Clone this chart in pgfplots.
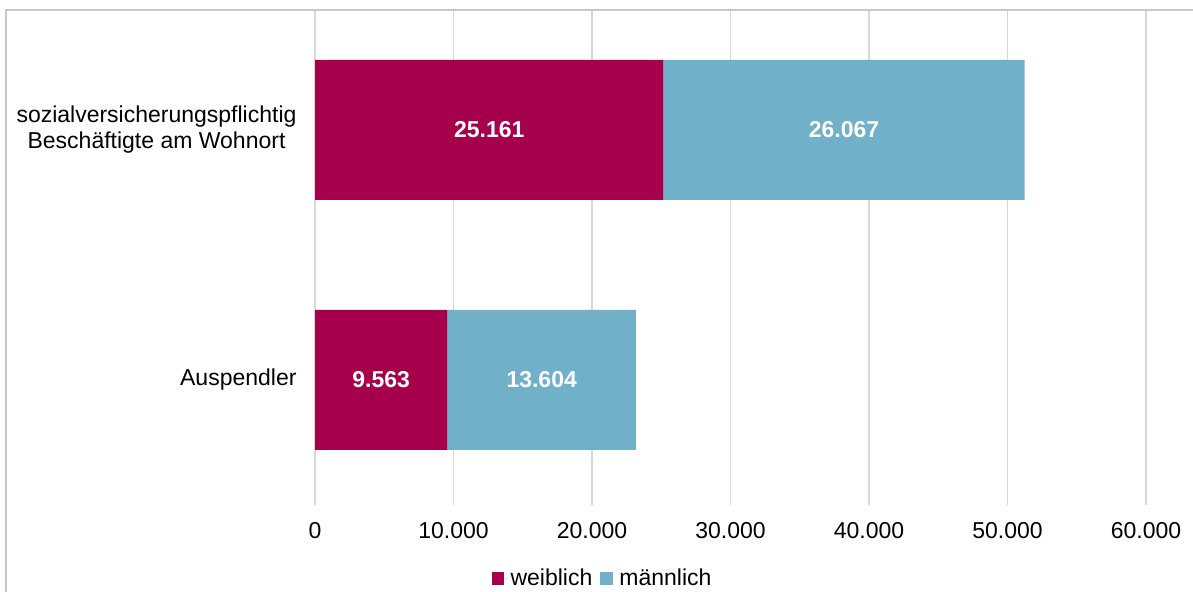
\documentclass[border=0pt]{standalone}
\usepackage{pgfplots}
\pgfplotsset{compat=1.18}
\usepackage{fontspec}
\setmainfont{Liberation Sans}
\definecolor{weib}{RGB}{166,0,77}
\definecolor{maen}{RGB}{112,176,200}
\definecolor{gridc}{RGB}{217,217,217}
\definecolor{framec}{RGB}{200,200,200}
\begin{document}
\begin{tikzpicture}[x=1bp,y=1bp]
\path[use as bounding box] (0,0) rectangle (1193,592);
\begin{axis}[
  at={(315bp,87bp)}, anchor=south west,
  scale only axis, width=831bp, height=494bp,
  xbar stacked, bar width=140bp,
  xmin=0, xmax=60000, ymin=-0.5, ymax=1.476,
  xtick={0,10000,20000,30000,40000,50000,60000},
  ytick={0,1},
  yticklabels={Auspendler,{sozialversicherungspflichtig\\Beschäftigte am Wohnort}},
  scaled x ticks=false,
  /pgf/number format/.cd, 1000 sep={.}, assume math mode=true, /pgfplots/.cd,
  xmajorgrids, major grid style={gridc, line width=1.5bp},
  axis line style={draw=none}, tick style={draw=none},
  tick label style={font=\fontsize{23bp}{26bp}\selectfont},
  yticklabel style={align=center, xshift=-15bp},
  xticklabel style={yshift=-14bp},
  legend style={draw=none, at={(0.346,-0.148)}, anchor=center, legend columns=2,
    font=\fontsize{23bp}{26bp}\selectfont,
    /tikz/every even column/.append style={column sep=6bp}},
  legend image code/.code={\path (0bp,0bp) -- (17bp,0bp);\fill[#1] (0bp,-6.5bp) rectangle (12.5bp,6.5bp);},
]
\addplot[fill=weib, draw=none] coordinates {(9563,0) (25161,1)};
\addlegendentry{weiblich}
\addplot[fill=maen, draw=none] coordinates {(13604,0) (26067,1)};
\addlegendentry{männlich}
\end{axis}
\begin{axis}[
  at={(315bp,87bp)}, anchor=south west,
  scale only axis, width=831bp, height=494bp,
  xmin=0, xmax=60000, ymin=-0.5, ymax=1.476,
  hide axis,
  nodes near coords, point meta=explicit symbolic,
  every node near coord/.append style={anchor=center, text=white,
    font=\bfseries\fontsize{23bp}{26bp}\selectfont},
]
\addplot[draw=none, mark=none] coordinates {
  (4781.5,0) [9.563] (16367,0) [13.604]
  (12580.5,1) [25.161] (38194.5,1) [26.067]};
\end{axis}
\draw[framec, line width=1.5bp] (6,0) -- (6,582) -- (1193,582);
\end{tikzpicture}
\end{document}
